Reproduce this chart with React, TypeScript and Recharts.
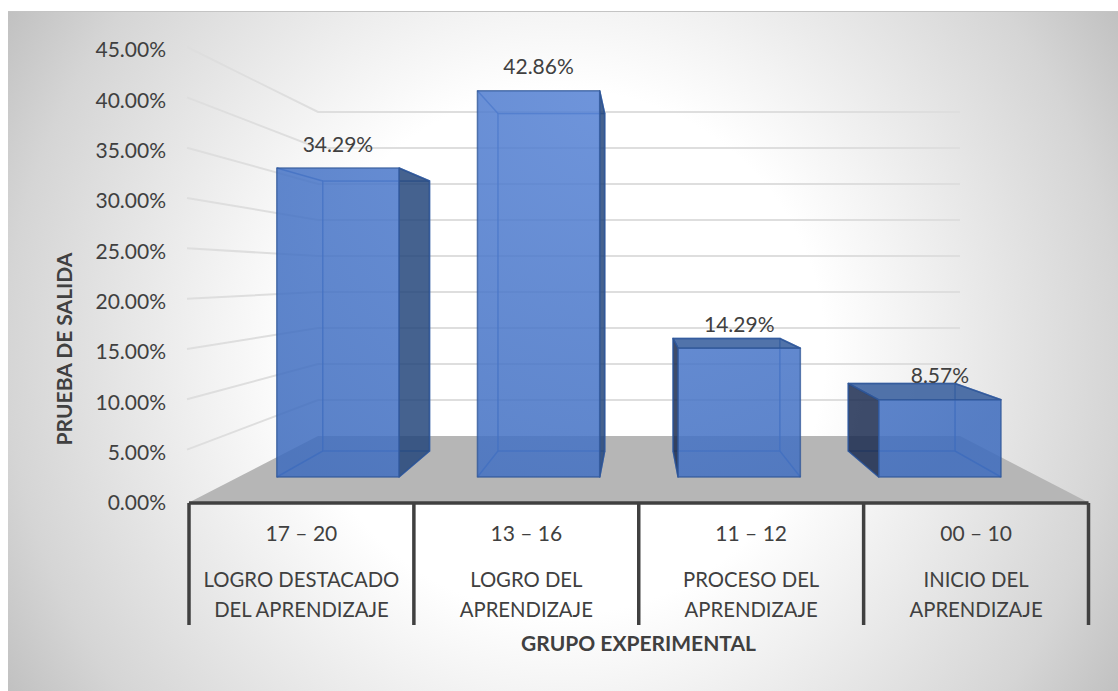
import React from "react";
import { BarChart, Bar, XAxis, YAxis, CartesianGrid, LabelList } from "recharts";

const ranges = ["17 – 20", "13 – 16", "11 – 12", "00 – 10"];
const levelLine1 = ["LOGRO DESTACADO", "LOGRO DEL", "PROCESO DEL", "INICIO DEL"];
const levelLine2 = ["DEL APRENDIZAJE", "APRENDIZAJE", "APRENDIZAJE", "APRENDIZAJE"];
const percentages = [34.29, 42.86, 14.29, 8.57];
const yTicks = [0, 5, 10, 15, 20, 25, 30, 35, 40, 45];

const rows = ranges.map((range, i) => ({ range, pct: percentages[i], l1: levelLine1[i], l2: levelLine2[i] }));

const FONT = "Lato, 'Open Sans', sans-serif";
const TEXT = "#404040";
const W = 1118, H = 691;
const PL = 189, PR = 1088.5, PT = 50, PB = 503;
const VX = 639;
const front = { sx: 0.8923, sy: 0.895, base: 477 };
const back = { sx: 0.779, sy: 0.782, base: 451 };
const px = (x: number, p: { sx: number }) => VX + p.sx * (x - VX);
const py = (h: number, p: { sy: number; base: number }) => p.base - p.sy * h;
const pts = (a: number[][]) => a.map((q) => q.join(",")).join(" ");

const Box = (props: any) => {
  const { x, width, height } = props;
  const fx0 = px(x, front), fx1 = px(x + width, front), fy0 = py(height, front), fy1 = front.base;
  const bx0 = px(x, back), bx1 = px(x + width, back), by0 = py(height, back), by1 = back.base;
  const stroke = "#2f5597";
  const edge = { stroke, strokeOpacity: 0.75, strokeWidth: 1.5, strokeLinejoin: "round" as const };
  const thin = { stroke: "#3565b5", strokeOpacity: 0.8, strokeWidth: 1.5, fill: "none" };
  const rightSide = bx1 > fx1;
  const leftSide = bx0 < fx0;
  const topSide = by0 < fy0 && fy0 > 270;
  return (
    <g>
      <rect x={bx0} y={by0} width={bx1 - bx0} height={by1 - by0} {...thin} />
      <polyline points={pts([[fx0, fy1], [bx0, by1]])} {...thin} />
      <polyline points={pts([[fx1, fy1], [bx1, by1]])} {...thin} />
      <polyline points={pts([[fx0, fy0], [bx0, by0]])} {...thin} />
      <polyline points={pts([[fx1, fy0], [bx1, by0]])} {...thin} />
      {rightSide && <polygon points={pts([[fx1, fy0], [bx1, by0], [bx1, by1], [fx1, fy1]])} fill="rgba(36,70,123,0.85)" {...edge} />}
      {leftSide && <polygon points={pts([[fx0, fy0], [bx0, by0], [bx0, by1], [fx0, fy1]])} fill="rgba(28,45,81,0.85)" {...edge} />}
      {topSide && <polygon points={pts([[fx0, fy0], [bx0, by0], [bx1, by0], [fx1, fy0]])} fill="rgba(50,90,155,0.85)" {...edge} />}
      <rect x={fx0} y={fy0} width={fx1 - fx0} height={fy1 - fy0} fill="url(#faceGlow)" fillOpacity={0.86} {...edge} />
    </g>
  );
};

const BarValue = (props: any) => {
  const { x, width, height, value } = props;
  const plotH = Number(height);
  return (
    <text
      x={px(Number(x) + Number(width) / 2, front)}
      y={py(plotH, front) - 25}
      textAnchor="middle"
      dominantBaseline="central"
      fontFamily={FONT}
      fontSize={21}
      fill={TEXT}
    >
      {Number(value).toFixed(2)}%
    </text>
  );
};

const wallLine = (props: any) => {
  const y = Number(props.y1);
  if (Math.abs(y - PB) < 1) {
    return (
      <polygon key="floor" points={pts([[PL - 1, PB], [318, 436], [960, 436], [PR + 1, PB]])} fill="#b6b6b6" />
    );
  }
  const by = 436 - (PB - y) * 0.7152;
  return (
    <polyline
      key={`wall-${y}`}
      points={pts([[PL - 2, y - 3], [318, by], [960, by]])}
      fill="none"
      stroke="#dedede"
      strokeWidth={2}
    />
  );
};

const step = (PR - PL) / ranges.length;

const CategoryTick = (props: any) => {
  const { x, index } = props;
  const r = rows[index];
  const common = { textAnchor: "middle" as const, fontFamily: FONT, fill: TEXT };
  return (
    <g>
      <line x1={x - step / 2} x2={x - step / 2} y1={PB} y2={625} stroke={TEXT} strokeWidth={3.5} />
      {index === ranges.length - 1 && (
        <line x1={x + step / 2} x2={x + step / 2} y1={PB} y2={625} stroke={TEXT} strokeWidth={3.5} />
      )}
      <text x={x} y={541} fontSize={21} {...common}>{r.range}</text>
      <text x={x} y={587} fontSize={20.3} {...common}>{r.l1}</text>
      <text x={x} y={617} fontSize={20.3} {...common}>{r.l2}</text>
    </g>
  );
};

export default function App() {
  return (
    <div style={{ position: "absolute", left: 0, top: 0, width: W, height: H, background: "#fff", overflow: "hidden" }}>
      <div
        style={{
          position: "absolute",
          left: 8,
          top: 11,
          width: W - 8,
          height: H - 11,
          borderTop: "1px solid #c4c4c4",
          boxSizing: "border-box",
          background:
            "radial-gradient(circle 655px at 555px 340px, #ffffff 40%, #f4f4f4 52%, #d5d5d5 85%, #c0c0c0 100%)",
        }}
      />
      <div style={{ position: "absolute", left: 0, top: 0 }}>
        <BarChart
          width={W}
          height={H}
          data={rows}
          margin={{ top: PT, right: W - PR, bottom: 0, left: 0 }}
          barCategoryGap="19.6%"
        >
          <defs>
            <radialGradient id="faceGlow" gradientUnits="userSpaceOnUse" cx={620} cy={80} r={500}>
              <stop offset="0%" stopColor="rgb(88,132,214)" />
              <stop offset="100%" stopColor="rgb(62,108,190)" />
            </radialGradient>
          </defs>
          <CartesianGrid vertical={false} horizontal={wallLine as any} />
          <XAxis
            dataKey="range"
            height={H - PB}
            interval={0}
            tickLine={false}
            axisLine={{ stroke: TEXT, strokeWidth: 3.5 }}
            tick={CategoryTick as any}
            label={{
              content: () => (
                <text x={638.5} y={651} textAnchor="middle" fontFamily={FONT} fontSize={21} fontWeight={700} fill={TEXT}>
                  GRUPO EXPERIMENTAL
                </text>
              ),
            }}
          />
          <YAxis
            width={PL}
            domain={[0, 45]}
            ticks={yTicks}
            interval={0}
            tickLine={false}
            axisLine={false}
            tickSize={0}
            tickMargin={23}
            tickFormatter={(v: number) => `${v.toFixed(2)}%`}
            tick={{ fontFamily: FONT, fontSize: 21, fill: TEXT }}
            label={{
              content: () => (
                <text
                  transform="translate(72 349) rotate(-90)"
                  textAnchor="middle"
                  fontFamily={FONT}
                  fontSize={21}
                  fontWeight={700}
                  fill={TEXT}
                >
                  PRUEBA DE SALIDA
                </text>
              ),
            }}
          />
          <Bar dataKey="pct" isAnimationActive={false} shape={Box as any}>
            <LabelList dataKey="pct" content={BarValue as any} />
          </Bar>
        </BarChart>
      </div>
    </div>
  );
}
